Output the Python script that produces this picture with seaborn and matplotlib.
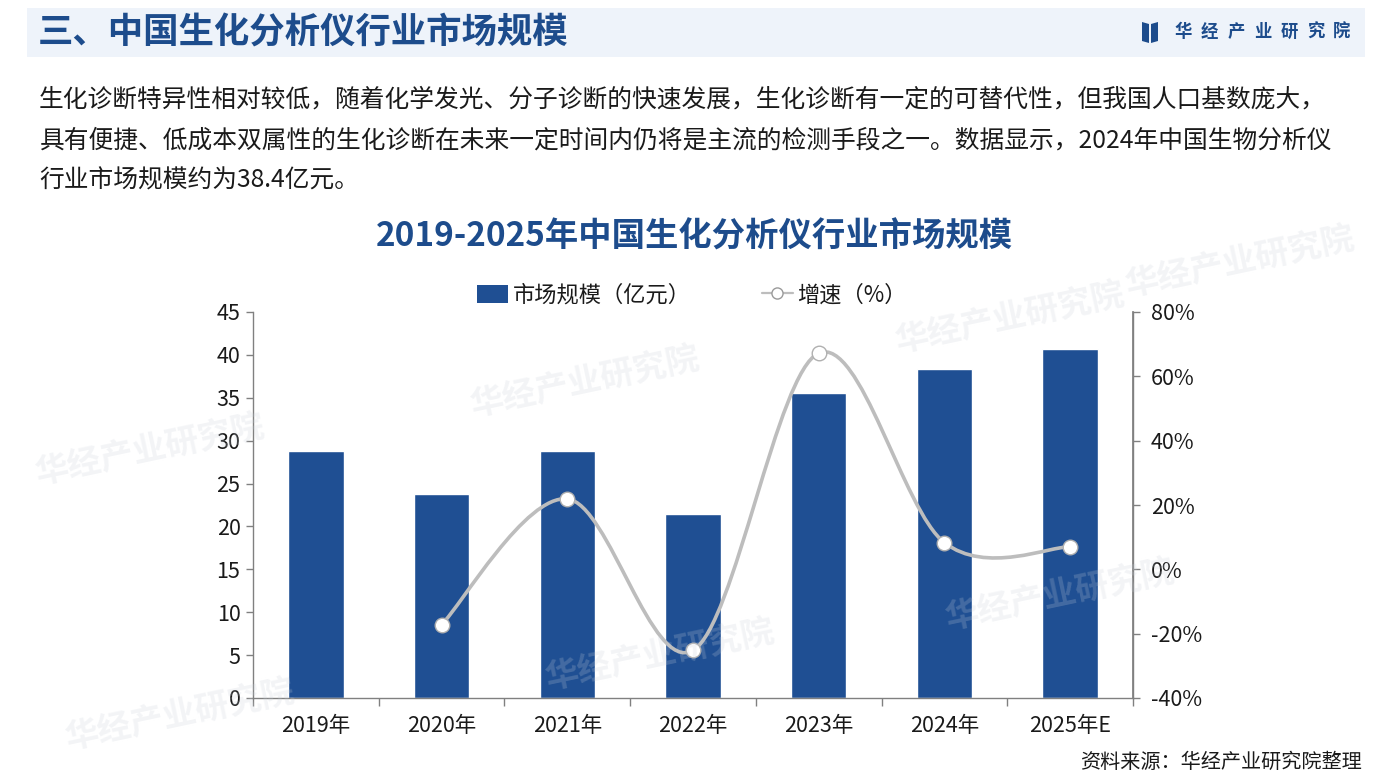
import numpy as np
import pandas as pd
import matplotlib
matplotlib.use("Agg")
import matplotlib.pyplot as plt
import seaborn as sns
from matplotlib.path import Path
from matplotlib.patches import PathPatch, Rectangle, Polygon, Patch
from matplotlib.lines import Line2D

# ---------------- data ----------------
years = ["2019年", "2020年", "2021年", "2022年", "2023年", "2024年", "2025年E"]
market = [28.8, 23.8, 28.8, 21.4, 35.6, 38.4, 40.7]          # 亿元
growth_years = ["2020年", "2021年", "2022年", "2023年", "2024年", "2025年E"]
growth = [-17.2, 21.9, -25.2, 67.2, 8.3, 7.0]                  # %
left_ticks = [0, 5, 10, 15, 20, 25, 30, 35, 40, 45]
right_ticks = [-40, -20, 0, 20, 40, 60, 80]

header_title = "三、中国生化分析仪行业市场规模"
paragraph = [
    "生化诊断特异性相对较低，随着化学发光、分子诊断的快速发展，生化诊断有一定的可替代性，但我国人口基数庞大，",
    "具有便捷、低成本双属性的生化诊断在未来一定时间内仍将是主流的检测手段之一。数据显示，2024年中国生物分析仪",
    "行业市场规模约为38.4亿元。",
]
chart_title = "2019-2025年中国生化分析仪行业市场规模"
legend_labels = ["市场规模（亿元）", "增速（%）"]
source = "资料来源：华经产业研究院整理"
brand = "华经产业研究院"

# ---------------- style ----------------
sns.set_theme(style="white")
plt.rcParams["font.family"] = ["Noto Sans CJK SC", "DejaVu Sans"]
plt.rcParams["axes.unicode_minus"] = False

BLUE = "#1F4F93"
TITLE_BLUE = "#1D4C8C"
GREY_LINE = "#BDBDBD"
SPINE = "#808080"
TXT = "#1A1A1A"

W, H = 1396, 778
fig = plt.figure(figsize=(W / 100, H / 100), dpi=100)
fig.patch.set_facecolor("white")

def fx(px):
    return px / W

def fy(py):
    return 1 - py / H

# faint watermarks
wm_pos = [(585, 382), (150, 450), (1010, 318), (660, 655), (1060, 595),
          (180, 715), (1240, 262)]
for (px, py) in wm_pos:
    fig.text(fx(px), fy(py), brand, fontsize=24, color="#C9CFD9", alpha=0.22,
             rotation=12, ha="center", va="center", fontweight="bold", zorder=0)

# header band
fig.patches.append(Rectangle((fx(27), fy(57)), fx(1365) - fx(27), fy(8) - fy(57),
                             transform=fig.transFigure, facecolor="#EEF3FA",
                             edgecolor="none", zorder=0))
fig.text(fx(38), fy(33), header_title, fontsize=25.5, fontweight="bold",
         color=TITLE_BLUE, ha="left", va="center")

# logo
fig.patches.append(Polygon([[fx(1142), fy(22)], [fx(1149), fy(24)], [fx(1149), fy(43)], [fx(1142), fy(41)]],
                           closed=True, transform=fig.transFigure, facecolor=TITLE_BLUE, edgecolor="none"))
fig.patches.append(Polygon([[fx(1151), fy(24)], [fx(1158), fy(22)], [fx(1158), fy(41)], [fx(1151), fy(43)]],
                           closed=True, transform=fig.transFigure, facecolor=TITLE_BLUE, edgecolor="none"))
for i, ch in enumerate(brand):
    fig.text(fx(1183 + i * 26.5), fy(32), ch, fontsize=12.5, fontweight="bold",
             color=TITLE_BLUE, ha="center", va="center")

# paragraph
for i, line in enumerate(paragraph):
    fig.text(fx(39), fy(100 + i * 40), line, fontsize=17.8, color=TXT,
             ha="left", va="center")

# chart title
fig.text(fx(694), fy(237), chart_title, fontsize=24, fontweight="bold",
         color=TITLE_BLUE, ha="center", va="center")

# ---------------- axes ----------------
ax = fig.add_axes([fx(253), fy(698), fx(1133) - fx(253), fy(312) - fy(698)])
ax.set_facecolor("none")
df = pd.DataFrame({"year": years, "market": market})
sns.barplot(data=df, x="year", y="market", ax=ax, color=BLUE, saturation=1,
            width=0.44, zorder=2)
ax.set_xlim(-0.5, len(years) - 0.5)
ax.set_ylim(0, 45)
ax.set_yticks(left_ticks)
ax.set_xlabel("")
ax.set_ylabel("")
ax.spines["top"].set_visible(False)
for s in ["left", "bottom", "right"]:
    ax.spines[s].set_color(SPINE)
    ax.spines[s].set_linewidth(1.0)
ax.tick_params(axis="y", direction="out", length=5, width=1, color=SPINE,
               labelsize=15.5, labelcolor=TXT, pad=4, left=True)
ax.set_xticks(np.arange(-0.5, len(years)), minor=True)
ax.tick_params(axis="x", which="major", length=0, labelsize=15.5, labelcolor=TXT, pad=12)
ax.tick_params(axis="x", which="minor", direction="out", length=6, width=1, color=SPINE, bottom=True)

ax2 = ax.twinx()
ax2.set_ylim(-40, 80)
ax2.set_yticks(right_ticks)
ax2.set_yticklabels([f"{t}%" for t in right_ticks])
for s in ["top", "left", "bottom"]:
    ax2.spines[s].set_visible(False)
ax2.spines["right"].set_color(SPINE)
ax2.tick_params(axis="y", direction="out", length=5, width=1, color=SPINE,
                labelsize=15.5, labelcolor=TXT, pad=8, right=True)
ax2.grid(False)
ax.grid(False)

# smoothed growth line (Catmull-Rom style Bezier through the data points)
gx = np.array([years.index(y) for y in growth_years], dtype=float)
gy = np.array(growth, dtype=float)
n = len(gx)
verts = [(gx[0], gy[0])]
codes = [Path.MOVETO]
for i in range(n - 1):
    p0 = np.array([gx[max(i - 1, 0)], gy[max(i - 1, 0)]])
    p1 = np.array([gx[i], gy[i]])
    p2 = np.array([gx[i + 1], gy[i + 1]])
    p3 = np.array([gx[min(i + 2, n - 1)], gy[min(i + 2, n - 1)]])
    c1 = p1 + (p2 - p0) / 6.0
    c2 = p2 - (p3 - p1) / 6.0
    verts += [tuple(c1), tuple(c2), tuple(p2)]
    codes += [Path.CURVE4] * 3
ax2.add_patch(PathPatch(Path(verts, codes), facecolor="none", edgecolor=GREY_LINE,
                        lw=2.6, zorder=3, capstyle="round"))
sns.scatterplot(x=gx, y=gy, ax=ax2, s=110, color="white", edgecolor="#B0B0B0",
                linewidth=1.0, zorder=4, legend=False)

# legend
handles = [Patch(facecolor=BLUE, edgecolor="none"),
           Line2D([0], [0], color=GREY_LINE, lw=1.6, marker="o", markersize=8,
                  markerfacecolor="white", markeredgecolor="#9A9A9A")]
fig.legend(handles, legend_labels, loc="center", bbox_to_anchor=(fx(692), fy(295)),
           ncol=2, frameon=False, fontsize=16, handlelength=1.4, handleheight=0.9,
           handletextpad=0.2, columnspacing=3.2, labelcolor=TXT)

# source
fig.text(fx(1362), fy(762), source, fontsize=14.5, color=TXT, ha="right",
         va="center", fontweight="medium")

fig.savefig("out.png", dpi=100, facecolor="white")
